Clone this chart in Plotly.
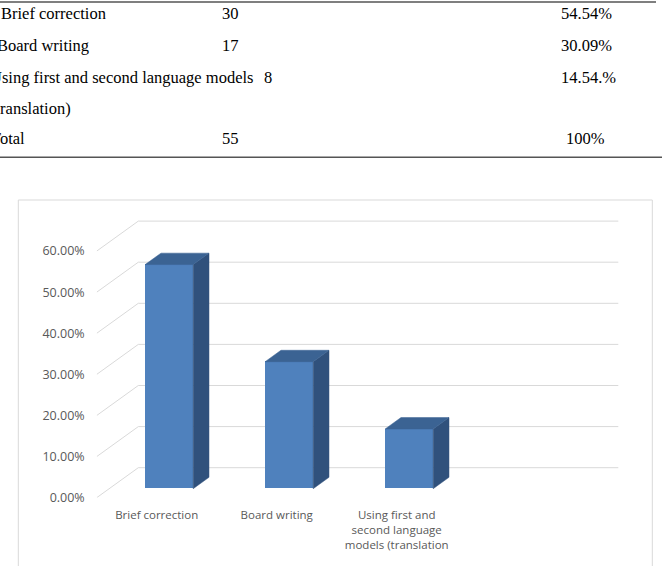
import plotly.graph_objects as go

# ---------------- data ----------------
table_labels = ["Brief correction", "Board writing", "Using first and second language models", "(translation)", "Total"]
table_counts = ["30", "17", "8", "", "55"]
table_pcts = ["54.54%", "30.09%", "14.54.%", "", "100%"]

categories = ["Brief correction", "Board writing", "Using first and<br>second language<br>models (translation"]
values = [54.54, 30.91, 14.54]
tick_vals = [0, 10, 20, 30, 40, 50, 60]
tick_text = ["0.00%", "10.00%", "20.00%", "30.00%", "40.00%", "50.00%", "60.00%"]
n_slots = 4  # category slots on the floor (last one empty)

# ---------------- geometry (pixels) ----------------
W, H = 664, 566
X0, Y0 = 96.7, 497.7          # front-left corner of floor at 0%
PX_PER_CAT = 120.0
PX_PER_PCT = 4.11
DEPTH_DX, DEPTH_DY = 41.6, 30.0  # full depth projection in px
dC = DEPTH_DX / PX_PER_CAT       # depth shift in category units
dV = DEPTH_DY / PX_PER_PCT       # depth shift in value units
Z_FRONT, Z_BAR = 0.30, 0.38      # bar front depth and bar depth
BAR_W = 0.40

x_range = [0, 4.5]
y_range = [0, 68]

def px(x):
    return x / W

def py(y):
    return 1 - y / H

fig = go.Figure()

# gridlines: back wall + left wall diagonals (as shapes below the traces)
for v in tick_vals:
    fig.add_shape(type="line", xref="x", yref="y", x0=0, y0=v, x1=dC, y1=v + dV,
                  line=dict(color="#d9d9d9", width=1), layer="below")
    fig.add_shape(type="line", xref="x", yref="y", x0=dC, y0=v + dV, x1=n_slots + dC, y1=v + dV,
                  line=dict(color="#d9d9d9", width=1), layer="below")

front_color = "#4f81bd"
top_color = "#3b6393"
side_color = "#30517c"

for i, v in enumerate(values):
    L = i + 0.5 - BAR_W / 2 + Z_FRONT * dC
    R = L + BAR_W
    b = Z_FRONT * dV
    t = v + b
    ddx, ddy = Z_BAR * dC, Z_BAR * dV
    # side face
    fig.add_trace(go.Scatter(x=[R, R, R + ddx, R + ddx, R], y=[b, t, t + ddy, b + ddy, b],
                             mode="lines", fill="toself", fillcolor=side_color,
                             line=dict(color=side_color, width=0.5), hoverinfo="skip", showlegend=False))
    # top face
    fig.add_trace(go.Scatter(x=[L, R, R + ddx, L + ddx, L], y=[t, t, t + ddy, t + ddy, t],
                             mode="lines", fill="toself", fillcolor=top_color,
                             line=dict(color=top_color, width=0.5), hoverinfo="skip", showlegend=False))

# front faces
fig.add_trace(go.Bar(x=[i + 0.5 for i in range(len(values))], y=values,
                     base=[Z_FRONT * dV] * len(values), width=BAR_W,
                     offset=-BAR_W / 2 + Z_FRONT * dC,
                     marker=dict(color=front_color, line=dict(width=0)),
                     showlegend=False, hoverinfo="skip"))

x_dom = [px(X0), px(X0 + (x_range[1] - x_range[0]) * PX_PER_CAT)]
y_dom = [py(Y0), py(Y0 - (y_range[1] - y_range[0]) * PX_PER_PCT)]

fig.update_layout(
    width=W, height=H, margin=dict(l=0, r=0, t=0, b=0, autoexpand=False),
    paper_bgcolor="white", plot_bgcolor="rgba(0,0,0,0)",
    xaxis=dict(domain=x_dom, range=x_range, showgrid=False, zeroline=False, showline=False,
               automargin=False,
               tickvals=[i + 0.5 for i in range(len(categories))], ticktext=categories,
               tickfont=dict(family="Open Sans", size=11.5, color="#595959"),
               ticklabelstandoff=9, fixedrange=True),
    yaxis=dict(domain=y_dom, range=y_range, showgrid=False, zeroline=False, showline=False,
               automargin=False,
               tickvals=tick_vals, ticktext=tick_text,
               tickfont=dict(family="Open Sans", size=12.5, color="#595959"),
               ticklabelstandoff=11, fixedrange=True),
    bargap=0,
)

# chart border
fig.add_shape(type="rect", xref="paper", yref="paper", x0=px(18.3), x1=px(652.3), y0=-0.05, y1=py(200),
              line=dict(color="#d9d9d9", width=1), fillcolor="rgba(0,0,0,0)", layer="below")

# table rules
fig.add_shape(type="line", xref="paper", yref="paper", x0=0, x1=px(656), y0=py(2), y1=py(2),
              line=dict(color="#555555", width=1.5))
fig.add_shape(type="line", xref="paper", yref="paper", x0=0, x1=px(662), y0=py(157.3), y1=py(157.3),
              line=dict(color="#555555", width=1.5))

row_y = [13, 45, 77.5, 108.5, 139]
label_right = [108, 91, 255, 73, 27]
count_x = [220, 220, 262, 220, 220]
pct_x = [559, 559, 559, 559, 564]
tfont = dict(family="Liberation Serif, Times New Roman, serif", size=16.5, color="#000000")
for k in range(len(table_labels)):
    fig.add_annotation(xref="paper", yref="paper", x=px(label_right[k]), y=py(row_y[k]),
                       text=table_labels[k], showarrow=False, xanchor="right", yanchor="middle", font=tfont)
    if table_counts[k]:
        fig.add_annotation(xref="paper", yref="paper", x=px(count_x[k]), y=py(row_y[k]),
                           text=table_counts[k], showarrow=False, xanchor="left", yanchor="middle", font=tfont)
    if table_pcts[k]:
        fig.add_annotation(xref="paper", yref="paper", x=px(pct_x[k]), y=py(row_y[k]),
                           text=table_pcts[k], showarrow=False, xanchor="left", yanchor="middle", font=tfont)

fig.write_html("out.html")
